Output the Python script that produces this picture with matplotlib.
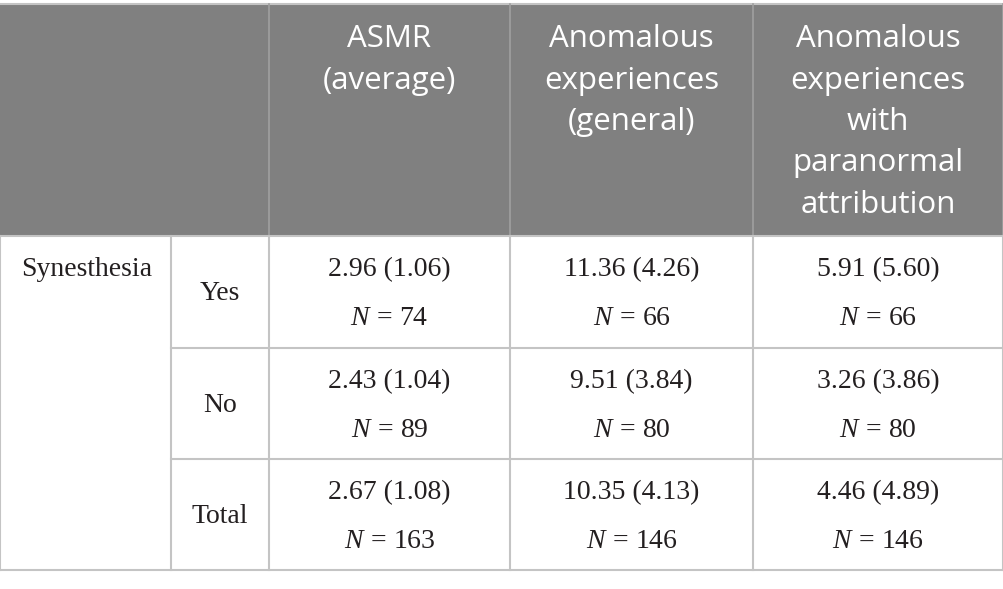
import matplotlib
matplotlib.use("Agg")
import matplotlib.pyplot as plt
from matplotlib.patches import Rectangle

# table content
col_heads = ["ASMR\n(average)",
             "Anomalous\nexperiences\n(general)",
             "Anomalous\nexperiences\nwith\nparanormal\nattribution"]
row_group = "Synesthesia"
row_labels = ["Yes", "No", "Total"]
means = [[2.96, 11.36, 5.91],
         [2.43, 9.51, 3.26],
         [2.67, 10.35, 4.46]]
sds = [[1.06, 4.26, 5.60],
       [1.04, 3.84, 3.86],
       [1.08, 4.13, 4.89]]
ns = [[74, 66, 66],
      [89, 80, 80],
      [163, 146, 146]]

plt.rcParams['mathtext.fontset'] = 'custom'
plt.rcParams['mathtext.rm'] = 'Liberation Serif'
plt.rcParams['mathtext.it'] = 'Liberation Serif:italic'

W, H = 1004, 589
fig = plt.figure(figsize=(W/100., H/100.), dpi=100)
ax = fig.add_axes([0, 0, 1, 1])
ax.set_xlim(0, W); ax.set_ylim(H, 0)
ax.axis('off')

# layout (pixels)
xs = [0, 171, 269, 510, 753, 1003]
head_top, head_bot = 4, 236
row_y = [236, 348, 459, 570]
line_c = '#c4c4c4'
head_bg = '#808080'
txt_c = '#231f20'
fs = 20

ax.add_patch(Rectangle((0, head_top), W, head_bot-head_top, facecolor=head_bg, edgecolor='none'))
ax.plot([0, W], [head_top, head_top], color=line_c, lw=1.5)

# header vertical lines
for x in xs[2:]:
    ax.plot([x, x], [head_top, head_bot], color='#a0a0a0', lw=1.2)

# header text
for j, h in enumerate(col_heads):
    xc = (xs[j+2] + xs[j+3]) / 2.
    for k, line in enumerate(h.split("\n")):
        ax.text(xc, 39 + k*41.5, line, ha='center', va='center', color='white',
                fontsize=22.5, family='Open Sans')

# body grid
for y in row_y:
    x0 = 0 if y in (row_y[0], row_y[-1]) else xs[1]
    ax.plot([x0, xs[-1]], [y, y], color=line_c, lw=1.5)
for x in xs:
    ax.plot([x, x], [row_y[0], row_y[-1]], color=line_c, lw=1.5)

ax.text(21, 270, row_group, ha='left', va='center', fontsize=fs,
        family='Liberation Serif', color=txt_c)

for i, lab in enumerate(row_labels):
    y0, y1 = row_y[i], row_y[i+1]
    yc = (y0 + y1) / 2.
    ax.text((xs[1]+xs[2])/2., yc+2, lab, ha='center', va='center', fontsize=fs,
            family='Liberation Serif', color=txt_c)
    for j in range(3):
        xc = (xs[j+2] + xs[j+3]) / 2.
        ax.text(xc, y0+34, "%.2f (%.2f)" % (means[i][j], sds[i][j]), ha='center',
                va='center', fontsize=fs, family='Liberation Serif', color=txt_c)
        ax.text(xc, y0+81, r"$N\,=\,%d$" % ns[i][j], ha='center', va='center',
                fontsize=fs, color=txt_c)

fig.savefig('out.png', dpi=100, facecolor='white')
